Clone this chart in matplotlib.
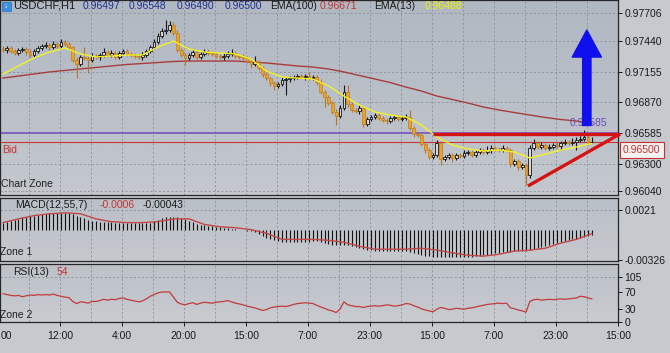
import numpy as np
import matplotlib.pyplot as plt
from matplotlib.colors import LinearSegmentedColormap
from matplotlib.patches import Rectangle
from matplotlib.transforms import blended_transform_factory

plt.rcParams['font.family'] = ['Liberation Sans', 'DejaVu Sans']

W, H = 670, 353

# ---- data: prices in points (1e-5), H1 candles ----
first_open_pts = 97369
close_pts = [
    97360, 97379, 97351, 97332, 97360, 97369, 97341, 97313, 97351, 97379,
    97397, 97407, 97388, 97416, 97397, 97435, 97416, 97388, 97267, 97229,
    97295, 97285, 97267, 97304, 97295, 97313, 97341, 97313, 97332, 97295,
    97332, 97351, 97323, 97313, 97304, 97295, 97313, 97351, 97388, 97435,
    97491, 97537, 97547, 97593, 97519, 97360, 97313, 97285, 97313, 97341,
    97295, 97323, 97341, 97332, 97323, 97304, 97295, 97304, 97323, 97332,
    97304, 97295, 97285, 97257, 97229, 97248, 97192, 97136, 97098, 97052,
    97024, 97042, 97080, 97089, 97098, 97108, 97117, 97108, 97117, 97098,
    97108, 97061, 96968, 96921, 96865, 96781, 96744, 96818, 96968, 96856,
    96800, 96790, 96818, 96669, 96716, 96734, 96753, 96725, 96706, 96697,
    96725, 96734, 96716, 96725, 96734, 96632, 96575, 96566, 96482, 96426,
    96361, 96379, 96491, 96342, 96361, 96379, 96351, 96379, 96370, 96398,
    96407, 96379, 96407, 96426, 96407, 96426, 96445, 96435, 96426, 96445,
    96426, 96295, 96323, 96267, 96286, 96193, 96445, 96491, 96454, 96473,
    96445, 96454, 96473, 96463, 96491, 96501, 96491, 96501, 96519, 96529,
    96547, 96497, 96500,
]
wick_up_pts = [
    24, 18, 20, 14, 22, 18, 20, 25, 16, 20,
    22, 30, 16, 24, 20, 28, 20, 16, 14, 24,
    18, 93, 20, 25, 16, 20, 35, 16, 24, 20,
    22, 16, 20, 14, 16, 20, 24, 16, 20, 25,
    30, 28, 93, 35, 30, 25, 16, 20, 16, 24,
    16, 20, 30, 24, 16, 20, 16, 24, 30, 40,
    16, 20, 24, 16, 20, 55, 16, 20, 16, 14,
    16, 20, 24, 16, 20, 16, 22, 16, 20, 40,
    16, 20, 24, 16, 20, 16, 24, 30, 65, 65,
    20, 16, 24, 20, 16, 20, 22, 16, 20, 16,
    20, 16, 22, 16, 24, 66, 20, 16, 24, 20,
    16, 20, 24, 16, 20, 16, 22, 20, 16, 24,
    20, 16, 22, 16, 20, 35, 24, 16, 20, 24,
    20, 16, 22, 16, 20, 16, 24, 35, 20, 30,
    16, 24, 20, 30, 20, 24, 16, 35, 30, 24,
    66, 20, 48,
]
wick_dn_pts = [
    20, 24, 16, 22, 16, 20, 24, 16, 20, 16,
    20, 16, 24, 16, 20, 16, 22, 20, 16, 131,
    20, 16, 122, 20, 16, 24, 16, 20, 16, 22,
    16, 20, 22, 16, 20, 16, 24, 16, 20, 16,
    20, 16, 24, 20, 16, 22, 16, 65, 20, 16,
    24, 20, 16, 22, 16, 20, 16, 24, 16, 20,
    20, 16, 22, 20, 37, 16, 20, 24, 16, 30,
    38, 20, 16, 140, 24, 16, 20, 16, 24, 20,
    16, 24, 20, 93, 22, 20, 84, 20, 16, 24,
    20, 16, 24, 30, 20, 16, 22, 16, 20, 24,
    16, 20, 16, 22, 20, 16, 24, 20, 22, 30,
    20, 16, 22, 56, 20, 16, 40, 20, 16, 22,
    16, 20, 22, 16, 20, 16, 24, 20, 16, 22,
    20, 24, 16, 28, 20, 94, 24, 16, 20, 22,
    16, 20, 22, 16, 40, 20, 16, 22, 75, 20,
    16, 20, 7,
]
# moving averages, read every 4th bar
ema_step = 4
ema13_pts = [
    97136, 97211, 97285, 97341, 97379, 97323, 97295, 97304, 97313, 97313,
    97388, 97444, 97369, 97341, 97332, 97323, 97276, 97164, 97108, 97098,
    97089, 97024, 96930, 96846, 96781, 96753, 96734, 96660, 96547, 96473,
    96435, 96417, 96426, 96407, 96351, 96389, 96426, 96454, 96488,
]
ema100_pts = [
    97098, 97117, 97136, 97155, 97169, 97183, 97197, 97211, 97225, 97234,
    97243, 97253, 97257, 97257, 97257, 97257, 97248, 97239, 97225, 97211,
    97201, 97183, 97155, 97122, 97089, 97056, 97014, 96977, 96930, 96898,
    96865, 96828, 96800, 96776, 96753, 96730, 96711, 96697, 96671,
]
# MACD(12,55,7) in 1e-3
macd_hist_e3 = [
    0.7, 0.8, 0.9, 1.0, 1.1, 1.3, 1.4, 1.5, 1.5, 1.6,
    1.7, 1.7, 1.8, 1.8, 1.8, 1.8, 1.8, 1.8, 1.7, 1.5,
    1.4, 1.2, 1.0, 0.95, 0.9, 0.85, 0.8, 0.8, 0.8, 0.75,
    0.75, 0.75, 0.75, 0.7, 0.7, 0.7, 0.7, 0.7, 0.75, 0.9,
    1.05, 1.2, 1.3, 1.4, 1.4, 1.3, 1.25, 1.1, 0.95, 0.8,
    0.6, 0.5, 0.45, 0.4, 0.35, 0.3, 0.25, 0.2, 0.15, 0.1,
    0.05, 0.0, -0.05, -0.1, -0.2, -0.3, -0.5, -0.7, -0.85, -1.0,
    -1.1, -1.2, -1.3, -1.35, -1.35, -1.35, -1.35, -1.35, -1.3, -1.3,
    -1.25, -1.25, -1.3, -1.4, -1.5, -1.6, -1.7, -1.7, -1.6, -1.7,
    -1.8, -1.9, -2.0, -2.1, -2.2, -2.2, -2.3, -2.3, -2.3, -2.3,
    -2.3, -2.3, -2.3, -2.3, -2.3, -2.4, -2.5, -2.6, -2.7, -2.8,
    -2.8, -2.9, -2.9, -2.9, -2.9, -2.9, -2.9, -2.9, -2.9, -2.9,
    -2.9, -2.9, -2.8, -2.8, -2.7, -2.7, -2.6, -2.5, -2.5, -2.4,
    -2.4, -2.4, -2.3, -2.3, -2.3, -2.3, -2.2, -2.1, -2.0, -1.9,
    -1.8, -1.7, -1.5, -1.4, -1.3, -1.2, -1.1, -1.05, -1.0, -0.9,
    -0.8, -0.7, -0.6,
]
macd_signal_e3 = [
    0.75, 1.15, 1.5, 1.7, 1.8, 1.7, 1.15, 0.85, 0.75, 0.75,
    0.85, 1.15, 1.15, 0.55, 0.3, 0.2, 0.0, -0.4, -1.05, -1.05,
    -1.05, -1.15, -1.35, -1.8, -2.1, -2.1, -2.1, -2.0, -2.2, -2.5,
    -2.75, -2.85, -2.65, -2.3, -2.2, -2.0, -1.45, -1.05, -0.43,
]
rsi13 = [
    66, 64, 62, 61, 62, 59, 61, 63, 62, 64,
    63, 64, 63, 65, 62, 60, 58, 57, 48, 43,
    47, 46, 44, 48, 48, 50, 53, 51, 53, 52,
    55, 56, 53, 51, 49, 47, 49, 54, 60, 64,
    68, 70, 70, 70, 58, 46, 42, 40, 43, 45,
    41, 44, 46, 45, 44, 46, 47, 48, 50, 47,
    44, 42, 40, 37, 35, 33, 30, 27, 29, 33,
    35, 36, 37, 36, 38, 41, 43, 44, 45, 44,
    43, 39, 35, 32, 28, 26, 22, 30, 47, 40,
    38, 36, 36, 34, 36, 37, 38, 37, 38, 40,
    39, 37, 38, 40, 43, 42, 38, 35, 31, 28,
    26, 24, 30, 34, 32, 29, 30, 32, 31, 30,
    32, 33, 35, 37, 39, 41, 42, 43, 44, 43,
    44, 33, 31, 28, 26, 23, 48, 52, 53, 51,
    52, 53, 52, 53, 54, 53, 54, 55, 56, 60,
    59, 56, 54,
]

time_labels = ["12:00", "4:00", "20:00", "15:00", "7:00", "23:00",
               "15:00", "7:00", "23:00", "15:00"]
price_ticks = [0.97706, 0.97440, 0.97155, 0.96870, 0.96585, 0.96300, 0.96040]
macd_ticks = [0.0021, -0.00326]
macd_tick_labels = ["0.0021", "-0.00326"]
rsi_ticks = [105, 70, 30, 0]

level_price = 0.96585
bid_price = 0.96500
# hand-drawn objects (bar index, price)
flat_x, flat_y = [111.0, 159.2], [0.96575, 0.96575]
rise_x, rise_y = [135.5, 159.2], [0.96090, 0.96575]
arrow_x, arrow_from, arrow_to = 150.7, 0.96655, 0.97547

# ---- derived series ----
close = np.array(close_pts) * 1e-5
opens = np.r_[first_open_pts * 1e-5, close[:-1]]
body_lo = np.minimum(opens, close)
body_hi = np.maximum(opens, close)
high = body_hi + np.array(wick_up_pts) * 1e-5
low = body_lo - np.array(wick_dn_pts) * 1e-5
bull = close >= opens
x = np.arange(len(close))
x_ema = x[::ema_step]

X0, X1 = -0.77, 158.75
grid_x = 6.7 + 8 * np.arange(19)
label_x = 14.7 + 16 * np.arange(len(time_labels))

fig = plt.figure(figsize=(6.7, 3.53), dpi=100, facecolor="#c6cacf")


def panel(top_px, bottom_px):
    return fig.add_axes([0, 1 - bottom_px / H, 618 / W, (bottom_px - top_px) / H])


def background(ax, top, bottom):
    cmap = LinearSegmentedColormap.from_list("bg", [bottom, top])
    ax.imshow(np.linspace(0, 1, 64).reshape(-1, 1), extent=[0, 1, 0, 1],
              transform=ax.transAxes, cmap=cmap, origin="lower",
              aspect="auto", zorder=0, interpolation="bilinear")


def ftext(px, py, s, **kw):
    kw.setdefault("fontsize", 7.5)
    kw.setdefault("va", "center")
    fig.text(px / W, 1 - py / H, s, **kw)


ax_p = panel(0, 195)
ax_m = panel(198, 261)
ax_r = panel(264, 322)

grid_kw = dict(color="#8a919b", lw=0.6, ls=(0, (2.5, 2.5)), zorder=1)
for ax, top, bottom in [(ax_p, "#b0b8c2", "#c4c8ce"),
                        (ax_m, "#bac0c8", "#c6c9ce"),
                        (ax_r, "#bdc2c9", "#c8cbd0")]:
    background(ax, top, bottom)
    for gx in grid_x:
        ax.axvline(gx, **grid_kw)
    ax.set_xlim(X0, X1)
    ax.yaxis.tick_right()
    ax.tick_params(axis="y", direction="out", length=3, width=0.7, pad=1.5,
                   labelsize=7.5, colors="#1a1a1a")
    ax.tick_params(axis="x", length=0, labelbottom=False)
    for sp in ax.spines.values():
        sp.set_color("#262626")
        sp.set_linewidth(0.9)

# ---- price panel ----
ax_p.set_ylim(0.96006, 0.97827)
ax_p.set_yticks(price_ticks)
ax_p.set_yticklabels([f"{t:.5f}" for t in price_ticks])
for t in price_ticks:
    ax_p.axhline(t, **grid_kw)

ax_p.plot(x_ema, np.array(ema100_pts) * 1e-5, color="#a83c3c", lw=1.0, zorder=3)

ax_p.vlines(x[bull], low[bull], high[bull], color="#151515", lw=0.8, zorder=4)
ax_p.vlines(x[~bull], low[~bull], high[~bull], color="#b87620", lw=0.8, zorder=4)
h = np.maximum(body_hi - body_lo, 0.00003)
ax_p.bar(x[bull], h[bull], bottom=body_lo[bull], width=0.72, color="#d8d8d8",
         edgecolor="#151515", linewidth=0.6, zorder=5)
ax_p.bar(x[~bull], h[~bull], bottom=body_lo[~bull], width=0.72, color="#eba229",
         edgecolor="#c27d1c", linewidth=0.5, zorder=5)

ax_p.plot(x_ema, np.array(ema13_pts) * 1e-5, color="#f2f22a", lw=1.0, zorder=6)

ax_p.axhline(level_price, color="#7a5ec4", lw=1.3, zorder=2)
ax_p.axhline(bid_price, color="#c93434", lw=0.8, zorder=2)

ax_p.plot(flat_x, flat_y, color="#d41414", lw=2.4, zorder=7,
          solid_capstyle="butt", clip_on=False)
ax_p.plot(rise_x, rise_y, color="#d41414", lw=2.4, zorder=7,
          solid_capstyle="butt", clip_on=False)

ax_p.text(0.983, level_price + 0.00045, "0.96585", color="#6a4cb6",
          fontsize=7.5, ha="right", va="bottom",
          transform=blended_transform_factory(ax_p.transAxes, ax_p.transData),
          zorder=7)
ax_p.annotate("", xy=(arrow_x, arrow_to), xytext=(arrow_x, arrow_from),
              arrowprops=dict(arrowstyle="simple,head_length=1.95,head_width=2.1,tail_width=0.6",
                              color="#1010ee", mutation_scale=10,
                              shrinkA=0, shrinkB=0),
              zorder=8)

bt = blended_transform_factory(ax_p.transAxes, ax_p.transData)
ax_p.text(1.008, 0.96426, "0.96500", transform=bt, color="#c83030",
          fontsize=7.5, ha="left", va="center", clip_on=False,
          bbox=dict(boxstyle="square,pad=0.3", facecolor="#f2f2f2",
                    edgecolor="#c83030", linewidth=0.8))

# ---- MACD panel ----
hist = np.array(macd_hist_e3) * 1e-3
ax_m.set_ylim(-0.00337, 0.00339)
ax_m.axhline(0.0021, **grid_kw)
ax_m.vlines(x, 0, hist, color="#111111", lw=0.8, zorder=3)
ax_m.plot(x_ema, np.array(macd_signal_e3) * 1e-3, color="#c24646", lw=1.0, zorder=4)
ax_m.set_yticks(macd_ticks)
ax_m.set_yticklabels(macd_tick_labels)

# ---- RSI panel ----
ax_r.set_ylim(0, 135.3)
ax_r.axhline(105, **grid_kw)
ax_r.plot(x, rsi13, color="#c23a3a", lw=0.9, zorder=3)
ax_r.set_yticks(rsi_ticks)
ax_r.set_xticks(label_x)
ax_r.set_xticklabels(time_labels)
ax_r.tick_params(axis="x", length=3, width=0.7, pad=3.5, labelbottom=True,
                 labelsize=7.5, colors="#1a1a1a")

# ---- texts ----
fig.patches.append(Rectangle((2 / W, 1 - 11 / H), 9 / W, 9 / H,
                             transform=fig.transFigure, facecolor="#3d8fe0",
                             edgecolor="#2a6fc0", lw=0.5))
ftext(6.5, 6.5, "\u2193", fontsize=6, color="white", ha="center", fontweight="bold")
ftext(13, 6, "USDCHF,H1", color="#1a1a1a", fontsize=8)
for px, s in [(83, "0.96497"), (129, "0.96548"), (177, "0.96490"), (225, "0.96500")]:
    ftext(px, 6, s, color="#23308f")
ftext(270, 6, "EMA(100)", color="#1a1a1a")
ftext(320, 6, "0.96671", color="#c23535")
ftext(374, 6, "EMA(13)", color="#1a1a1a")
ftext(425, 6, "0.96488", color="#f0f000")

ftext(2, 150, "Bid", color="#c83030")
ftext(1, 184, "Chart Zone", color="#202020")
ftext(15, 205, "MACD(12,55,7)", color="#1a1a1a")
ftext(100, 205, "-0.0006", color="#c23535")
ftext(143, 205, "-0.00043", color="#1a1a1a")
ftext(0, 252, "Zone 1", color="#202020")
ftext(13, 272, "RSI(13)", color="#1a1a1a")
ftext(57, 272, "54", color="#c23535")
ftext(0, 315, "Zone 2", color="#202020")
# first time label is cut by the left edge in the original, only "00" shows
ftext(0.5, 336, "00", ha="left", color="#1a1a1a")

fig.savefig("out.png", dpi=100, facecolor=fig.get_facecolor())
